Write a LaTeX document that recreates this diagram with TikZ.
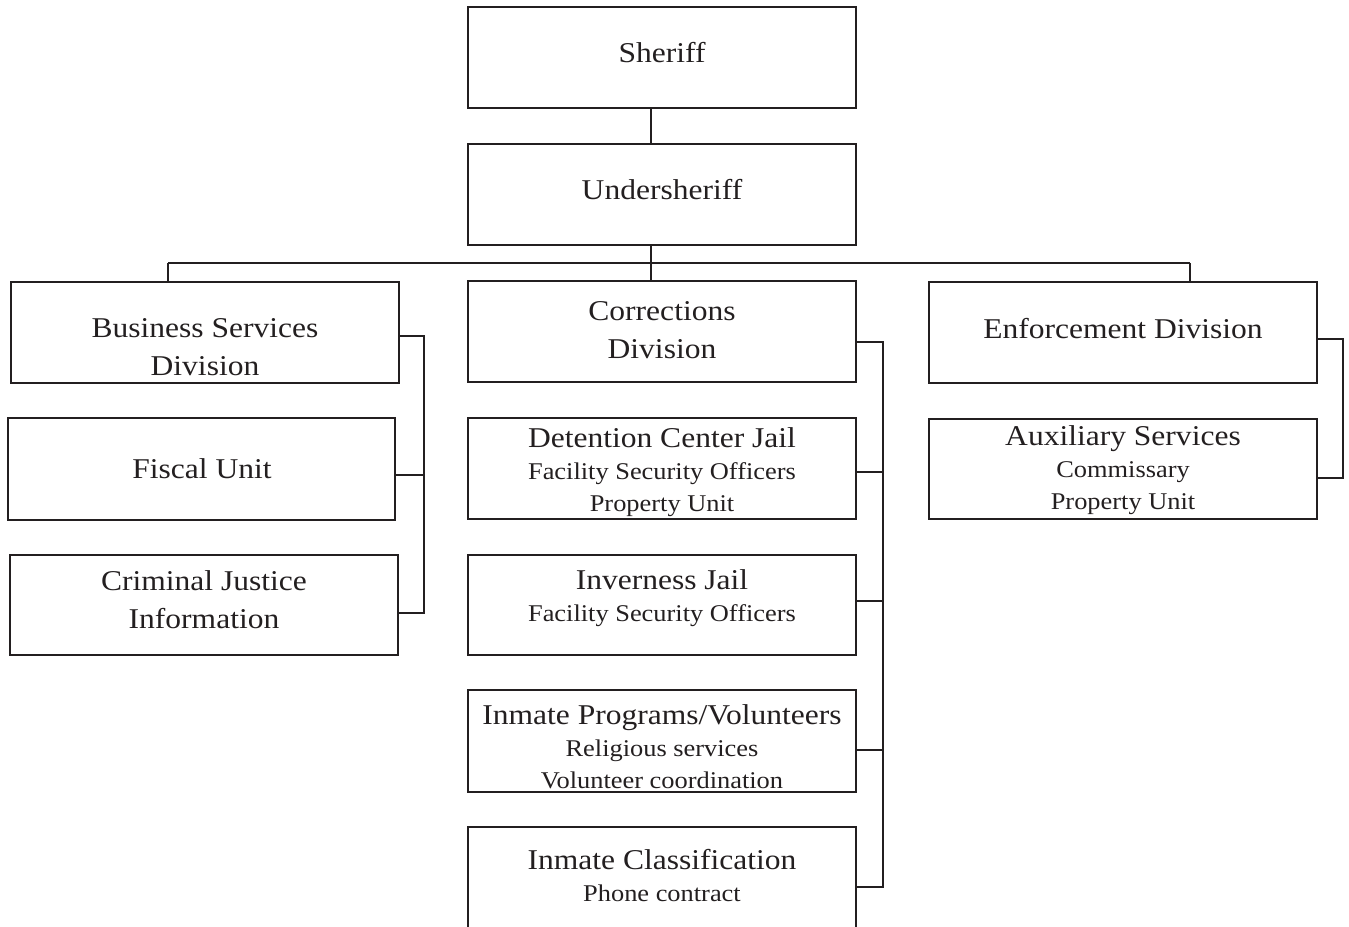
\documentclass[tikz,border=0pt]{standalone}
\usepackage{fontspec}
\setmainfont{Liberation Serif}[FakeStretch=1.1]
\definecolor{ink}{HTML}{231F20}
\newcommand\bigf{\fontsize{21.5pt}{28.5pt}\selectfont}
\newcommand\smf{\fontsize{18pt}{24pt}\selectfont}
\begin{document}
\begin{tikzpicture}[x=0.75pt,y=-0.75pt,
  box/.style={draw=ink,line width=2pt,rectangle,minimum width=291pt,minimum height=75.75pt,inner sep=0pt},
  lbl/.style={text=ink,align=center,inner sep=0pt},
  big/.style={lbl,font=\bigf},
  mix/.style={lbl,font=\smf},
  conn/.style={draw=ink,line width=2pt}]
\useasboundingbox (0,0) rectangle (1349,927);
% boxes
\node[box] (sheriff) at (662,57.5) {};
\node[box] (under) at (662,194.5) {};
\node[box] (bsd) at (205,332.5) {};
\node[box] (corr) at (662,331.5) {};
\node[box] (enf) at (1123,332.5) {};
\node[box,minimum width=290.25pt,minimum height=76.5pt] (fiscal) at (201.5,469) {};
\node[box,minimum height=75pt] (cji) at (204,605) {};
\node[box] (det) at (662,468.5) {};
\node[box,minimum height=75pt] (inv) at (662,605) {};
\node[box,minimum height=76.5pt] (prog) at (662,741) {};
\node[box,minimum height=90pt] (cls) at (662,887) {};
\node[box,minimum height=75pt] (aux) at (1123,469) {};
% texts
\node[big] at (662,53) {Sheriff};
\node[big] at (662,190) {Undersheriff};
\node[big] at (205,347.5) {Business Services\\Division};
\node[big] at (662,330.5) {Corrections\\Division};
\node[big] at (1123,328.5) {Enforcement Division};
\node[big] at (202,468.5) {Fiscal Unit};
\node[big] at (204,600) {Criminal Justice\\Information};
\node[mix] at (662,472) {{\bigf Detention Center Jail}\\Facility Security Officers\\Property Unit};
\node[mix] at (662,598) {{\bigf Inverness Jail}\\Facility Security Officers};
\node[mix] at (662,746.5) {{\bigf Inmate Programs/Volunteers}\\Religious services\\Volunteer coordination};
\node[mix] at (662,876) {{\bigf Inmate Classification}\\Phone contract};
\node[mix] at (1123,470) {{\bigf Auxiliary Services}\\Commissary\\Property Unit};
% connectors
\coordinate (spine) at (651,263);
\coordinate (busL) at (168,263);
\coordinate (busR) at (1190,263);
\draw[conn] (sheriff.south -| spine) -- (under.north -| spine);
\draw[conn] (under.south -| spine) -- (corr.north -| spine);
\draw[conn] (busL) -- (busR);
\draw[conn] (busL) -- (busL |- bsd.north);
\draw[conn] (busR) -- (busR |- enf.north);
% left bracket
\coordinate (lb) at (424,336);
\draw[conn] (bsd.east |- lb) -- (lb) -- (lb |- 0,613) -- (cji.east |- 0,613);
\draw[conn] (fiscal.east |- 0,475) -- (lb |- 0,475);
% corrections bracket
\coordinate (cb) at (883,342);
\draw[conn] (corr.east |- cb) -- (cb) -- (cb |- 0,887) -- (cls.east |- 0,887);
\draw[conn] (det.east |- 0,472) -- (cb |- 0,472);
\draw[conn] (inv.east |- 0,601) -- (cb |- 0,601);
\draw[conn] (prog.east |- 0,750) -- (cb |- 0,750);
% enforcement bracket
\coordinate (eb) at (1343,339);
\draw[conn] (enf.east |- eb) -- (eb) -- (eb |- 0,478) -- (aux.east |- 0,478);
\end{tikzpicture}
\end{document}
